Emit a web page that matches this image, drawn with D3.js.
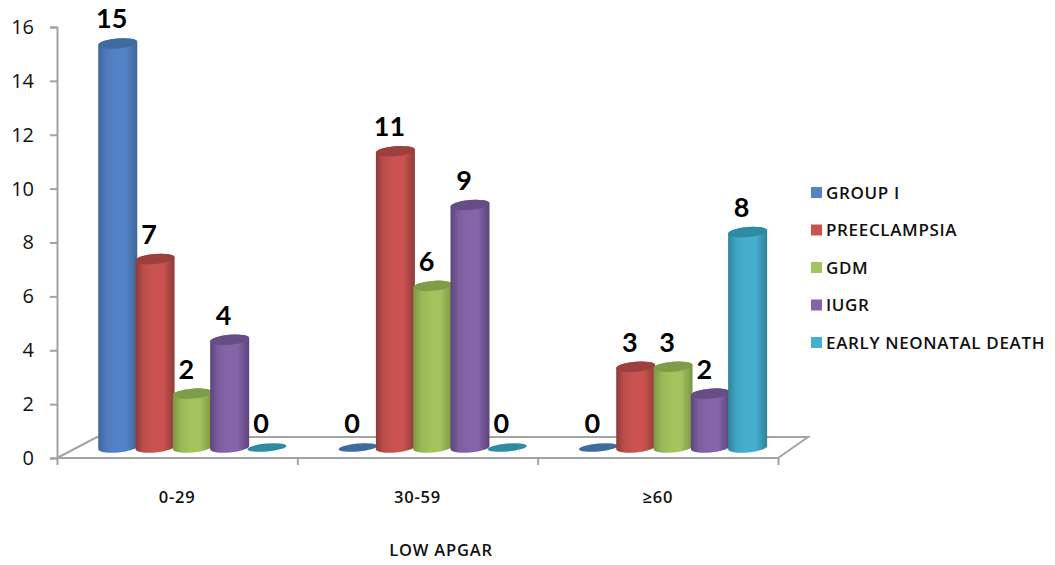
<!DOCTYPE html>
<html>
<head>
<meta charset="utf-8">
<script src="https://cdnjs.cloudflare.com/ajax/libs/d3/7.8.5/d3.min.js"></script>
<style>
  html, body { margin: 0; padding: 0; background: #fff; }
  svg { display: block; }
  text { font-family: Lato, "Open Sans", sans-serif; fill: #111; }
</style>
</head>
<body>
<svg id="chart" width="1055" height="565"></svg>
<script>
// Low APGAR counts per group, as 3D-style cylinders on a floor
const categories = ["0-29", "30-59", "≥60"];
const seriesNames = ["GROUP I", "PREECLAMPSIA", "GDM", "IUGR", "EARLY NEONATAL DEATH"];
const groupI = [15, 0, 0];
const preeclampsia = [7, 11, 3];
const gdm = [2, 6, 3];
const iugr = [4, 9, 2];
const earlyNeonatalDeath = [0, 0, 8];
const seriesValues = [groupI, preeclampsia, gdm, iugr, earlyNeonatalDeath];
const yTicks = [0, 2, 4, 6, 8, 10, 12, 14, 16];
const axisTitle = "LOW APGAR";

// mid, edge and cap colours of each cylinder
const midColors = ["#5482c6", "#ca5350", "#a2c35d", "#8664aa", "#46afce"];
const edgeColors = ["#3d6797", "#8f3b39", "#7a9645", "#5c447b", "#2f8299"];
const capColors = ["#3f6c9f", "#9c403d", "#7f9c47", "#664d86", "#2f8ba1"];

const svg = d3.select("#chart");

const plot = { left: 57, right: 778, top: 27, bottom: 458 };
const depth = { dx: 30, dy: 21 };
const lift = 10.5;          // cylinders stand this far above the front floor edge
const barShift = 15.2;      // and this far right of the band centre
const barRx = 19.5;
const barRy = 5;
const tilt = -5;            // degrees of rotation on every cap ellipse

const x0 = d3.scaleBand().domain(categories).range([plot.left, plot.right]);
const y = d3.scaleLinear().domain([0, 16]).range([plot.bottom, plot.top]);
const x1 = d3.scaleBand()
  .domain(d3.range(seriesNames.length))
  .range([0, 37.3 * seriesNames.length]);

const barCenter = (c, s) =>
  x0(categories[c]) + x0.bandwidth() / 2 + barShift +
  x1(s) + x1.bandwidth() / 2 - x1.range()[1] / 2;
const barY = v => y(v) - lift;

// Horizontal shading that gives each bar its round look
const defs = svg.append("defs");
seriesNames.forEach((_, i) => {
  const g = defs.append("linearGradient").attr("id", "cyl" + i);
  [[0, edgeColors[i]], [0.2, d3.interpolateRgb(edgeColors[i], midColors[i])(0.75)],
   [0.46, midColors[i]], [0.7, midColors[i]], [1, edgeColors[i]]]
    .forEach(([o, c]) => g.append("stop").attr("offset", o).attr("stop-color", c));
});

// Floor outline
const axisGrey = "#a3a3a3";
const floorLine = d3.line();
svg.append("path")
  .attr("d", floorLine([
    [x0.range()[0], y(0)],
    [x0.range()[0] + depth.dx + 10, y(0) - depth.dy],
    [x0.range()[1] + depth.dx, y(0) - depth.dy],
    [x0.range()[1], y(0)]
  ]))
  .attr("fill", "none").attr("stroke", axisGrey).attr("stroke-width", 2);

// Axes
const yAxis = d3.axisLeft(y).tickValues(yTicks).tickSize(7).tickPadding(16);
const gy = svg.append("g").attr("transform", `translate(${plot.left},0)`).call(yAxis);
gy.selectAll("text").style("font-size", "20px").style("font-family", "'Open Sans', sans-serif");
gy.selectAll("path,line").attr("stroke", axisGrey).attr("stroke-width", 2);

const boundaries = d3.scaleLinear().domain([0, categories.length]).range(x0.range());
const xAxis = d3.axisBottom(boundaries).tickValues(d3.range(categories.length + 1))
  .tickSize(7).tickFormat("");
const gx = svg.append("g").attr("transform", `translate(0,${plot.bottom})`).call(xAxis);
gx.selectAll("path,line").attr("stroke", axisGrey).attr("stroke-width", 2);
gx.select("path").attr("d", floorLine([[plot.left, 0], [plot.right, 0]]));

svg.selectAll(".cat").data(categories).join("text")
  .attr("class", "cat")
  .attr("x", d => x0(d) + x0.bandwidth() / 2)
  .attr("y", 503)
  .attr("text-anchor", "middle")
  .style("font-size", "16.5px").style("font-weight", 600)
  .style("letter-spacing", "0.8px")
  .style("font-family", "'Open Sans', sans-serif")
  .text(d => d);

svg.append("text")
  .attr("x", 441).attr("y", 556)
  .attr("text-anchor", "middle")
  .style("font-size", "16.5px").style("font-weight", 600)
  .style("letter-spacing", "0.8px")
  .style("font-family", "'Open Sans', sans-serif")
  .text(axisTitle);

// Cylinders, drawn left to right so that each overlaps the previous one
const tiltDy = barRx * Math.sin(-tilt * Math.PI / 180);
const cylinderPath = (cx, v) => {
  const top = barY(v), base = barY(0);
  const xl = cx - barRx, xr = cx + barRx;
  return `M${xl},${top + tiltDy}L${xl},${base + tiltDy}` +
    `A${barRx},${barRy} ${tilt} 0 0 ${xr},${base - tiltDy}L${xr},${top - tiltDy}` +
    `A${barRx},${barRy} ${tilt} 0 0 ${xl},${top + tiltDy}Z`;
};

categories.forEach((cat, c) => {
  seriesValues.forEach((vals, s) => {
    const v = vals[c];
    const cx = barCenter(c, s);
    if (v > 0) {
      svg.append("path").attr("d", cylinderPath(cx, v)).attr("fill", `url(#cyl${s})`);
    }
    svg.append("ellipse")
      .attr("rx", barRx).attr("ry", v > 0 ? barRy : 4)
      .attr("transform", `translate(${cx},${barY(v)}) rotate(${tilt})`)
      .attr("fill", capColors[s]);
    svg.append("text")
      .attr("x", cx - 6)
      .attr("y", barY(v) - 15)
      .attr("text-anchor", "middle")
      .style("font-size", "27px").style("font-weight", 700)
      .style("fill", "#000")
      .text(v);
  });
});

// Legend
const legendY = d3.scalePoint().domain(seriesNames).range([192, 342]);
const legend = svg.selectAll(".legend").data(seriesNames).join("g")
  .attr("class", "legend")
  .attr("transform", d => `translate(811,${legendY(d)})`);
legend.append("rect")
  .attr("x", 0).attr("y", -5).attr("width", 11).attr("height", 11)
  .attr("fill", (d, i) => midColors[i]);
legend.append("text")
  .attr("x", 15).attr("y", 6.5)
  .style("font-size", "17px").style("font-weight", 600)
  .style("letter-spacing", "0.65px")
  .style("font-family", "'Open Sans', sans-serif")
  .text(d => d);
</script>
</body>
</html>
